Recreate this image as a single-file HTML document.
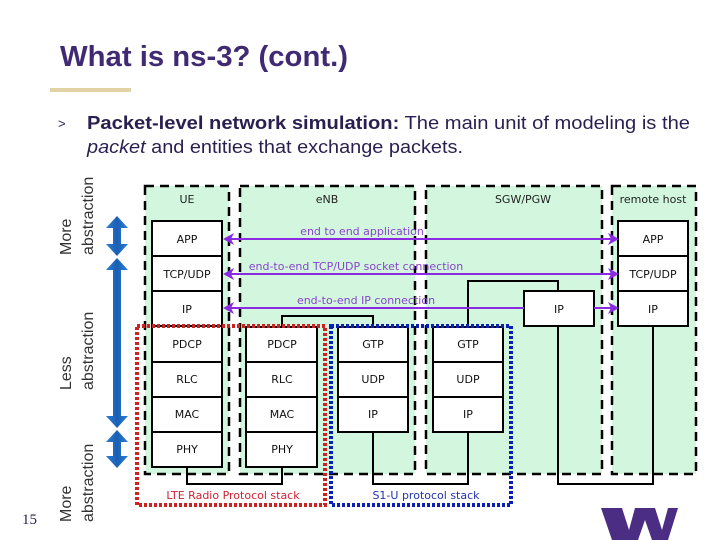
<!DOCTYPE html>
<html><head><meta charset="utf-8"><style>
html,body{margin:0;padding:0;background:#fff;}
svg{display:block;}
</style></head><body>
<svg width="720" height="540" viewBox="0 0 720 540" xmlns="http://www.w3.org/2000/svg">
<defs>
<linearGradient id="bg" x1="0" x2="1"><stop offset="0" stop-color="#2a7fd4"/><stop offset="0.5" stop-color="#1a5fb4"/><stop offset="1" stop-color="#2a7fd4"/></linearGradient>
</defs>
<!-- title -->
<text x="60" y="66" font-family="Liberation Sans, sans-serif" font-weight="bold" font-size="29" fill="#3f2a73" textLength="288" lengthAdjust="spacingAndGlyphs">What is ns-3? (cont.)</text>
<rect x="50" y="88" width="81" height="4" fill="#e2d3a6"/>
<text x="58" y="128" font-family="Liberation Sans, sans-serif" font-size="13" fill="#2a1f4f">&gt;</text>
<text x="87" y="129" font-family="Liberation Sans, sans-serif" font-size="18" fill="#2a1f4f" textLength="603" lengthAdjust="spacingAndGlyphs"><tspan font-weight="bold">Packet-level network simulation:</tspan>  The main unit of modeling is the</text>
<text x="87" y="153" font-family="Liberation Sans, sans-serif" font-size="18" fill="#2a1f4f" textLength="376" lengthAdjust="spacingAndGlyphs"><tspan font-style="italic">packet</tspan> and entities that exchange packets.</text>

<!-- side labels -->
<g font-family="Liberation Sans, sans-serif" font-size="16" fill="#333">
<text transform="translate(71,255) rotate(-90)">More</text>
<text transform="translate(93,255) rotate(-90)">abstraction</text>
<text transform="translate(71,390) rotate(-90)">Less</text>
<text transform="translate(93,390) rotate(-90)">abstraction</text>
<text transform="translate(71,522) rotate(-90)">More</text>
<text transform="translate(93,522) rotate(-90)">abstraction</text>
</g>
<text x="22" y="524" font-family="Liberation Serif, serif" font-size="15" fill="#2a1f4f">15</text>

<!-- blue double arrows -->
<g fill="url(#bg)">
<polygon points="117,216 128,228 121,228 121,244 128,244 117,256 106,244 113,244 113,228 106,228"/>
<polygon points="117,258 128,270 121,270 121,416 128,416 117,428 106,416 113,416 113,270 106,270"/>
<polygon points="117,430 128,442 121,442 121,456 128,456 117,468 106,456 113,456 113,442 106,442"/>
</g>

<!-- node regions -->
<g fill="#d3f7de" stroke="#000" stroke-width="2.5" stroke-dasharray="9,6">
<rect x="145" y="186" width="84" height="288"/>
<rect x="240" y="186" width="175" height="288"/>
<rect x="426" y="186" width="176" height="288"/>
<rect x="612" y="186" width="84" height="288"/>
</g>
<g font-family="DejaVu Sans, sans-serif" font-size="11" fill="#222" text-anchor="middle">
<text x="187" y="203">UE</text>
<text x="327" y="203">eNB</text>
<text x="523" y="203">SGW/PGW</text>
<text x="653" y="203">remote host</text>
</g>

<!-- connecting lines -->
<g fill="none" stroke="#000" stroke-width="2">
<polyline points="282,327 282,316 373,316 373,327"/>
<polyline points="468,327 468,281 558,281 558,291"/>
<polyline points="187,467 187,484 282,484 282,467"/>
<polyline points="373,432 373,484 468,484 468,432"/>
<polyline points="558,326 558,484 653,484 653,326"/>
</g>

<!-- stacks -->
<g fill="#fff" stroke="#000" stroke-width="2">
<rect x="152" y="221" width="70" height="246"/>
<line x1="152" y1="256" x2="222" y2="256"/><line x1="152" y1="291" x2="222" y2="291"/><line x1="152" y1="326" x2="222" y2="326"/><line x1="152" y1="362" x2="222" y2="362"/><line x1="152" y1="397" x2="222" y2="397"/><line x1="152" y1="432" x2="222" y2="432"/>
<rect x="246" y="327" width="71" height="140"/>
<line x1="246" y1="362" x2="317" y2="362"/><line x1="246" y1="397" x2="317" y2="397"/><line x1="246" y1="432" x2="317" y2="432"/>
<rect x="338" y="327" width="70" height="105"/>
<line x1="338" y1="362" x2="408" y2="362"/><line x1="338" y1="397" x2="408" y2="397"/>
<rect x="433" y="327" width="70" height="105"/>
<line x1="433" y1="362" x2="503" y2="362"/><line x1="433" y1="397" x2="503" y2="397"/>
<rect x="524" y="291" width="70" height="35"/>
<rect x="618" y="221" width="70" height="105"/>
<line x1="618" y1="256" x2="688" y2="256"/><line x1="618" y1="291" x2="688" y2="291"/>
</g>
<g font-family="DejaVu Sans, sans-serif" font-size="11" fill="#111" text-anchor="middle">
<text x="187" y="243">APP</text><text x="187" y="278">TCP/UDP</text><text x="187" y="313">IP</text>
<text x="187" y="348">PDCP</text><text x="187" y="383">RLC</text><text x="187" y="418">MAC</text><text x="187" y="453">PHY</text>
<text x="282" y="348">PDCP</text><text x="282" y="383">RLC</text><text x="282" y="418">MAC</text><text x="282" y="453">PHY</text>
<text x="373" y="348">GTP</text><text x="373" y="383">UDP</text><text x="373" y="418">IP</text>
<text x="468" y="348">GTP</text><text x="468" y="383">UDP</text><text x="468" y="418">IP</text>
<text x="559" y="313">IP</text>
<text x="653" y="243">APP</text><text x="653" y="278">TCP/UDP</text><text x="653" y="313">IP</text>
</g>

<!-- purple arrows -->
<g stroke="#8a2be2" stroke-width="2" fill="none">
<line x1="230" y1="239" x2="611" y2="239"/>
<line x1="230" y1="274" x2="611" y2="274"/>
<line x1="230" y1="308" x2="524" y2="308"/>
<line x1="594" y1="308" x2="611" y2="308"/>
</g>
<g fill="#8a2be2">
<polygon points="223,239 234,233 231,239 234,245"/>
<polygon points="223,274 234,268 231,274 234,280"/>
<polygon points="223,308 234,302 231,308 234,314"/>
<polygon points="619,239 608,233 611,239 608,245"/>
<polygon points="619,274 608,268 611,274 608,280"/>
<polygon points="619,308 608,302 611,308 608,314"/>
</g>
<g font-family="DejaVu Sans, sans-serif" font-size="11" fill="#8844cc" text-anchor="middle">
<text x="362" y="235">end to end application</text>
<text x="356" y="270">end-to-end TCP/UDP socket connection</text>
<text x="366" y="304">end-to-end IP connection</text>
</g>

<!-- protocol stack groupings -->
<rect x="137" y="326" width="188" height="179" fill="none" stroke="#cc2222" stroke-width="4" stroke-dasharray="3,2"/>
<rect x="331" y="326" width="180" height="179" fill="none" stroke="#0a1fb5" stroke-width="4" stroke-dasharray="3,2"/>
<text x="233" y="499" font-family="DejaVu Sans, sans-serif" font-size="11" fill="#cc2233" text-anchor="middle">LTE Radio Protocol stack</text>
<text x="426" y="499" font-family="DejaVu Sans, sans-serif" font-size="11" fill="#2233aa" text-anchor="middle">S1-U protocol stack</text>

<!-- logo -->
<polygon points="601,508 622,508 629,530 635,508 655,508 662,530 668,508 678,508 668,540 652,540 645,520 638,540 612,540" fill="#4b2e83"/>
</svg>
</body></html>
